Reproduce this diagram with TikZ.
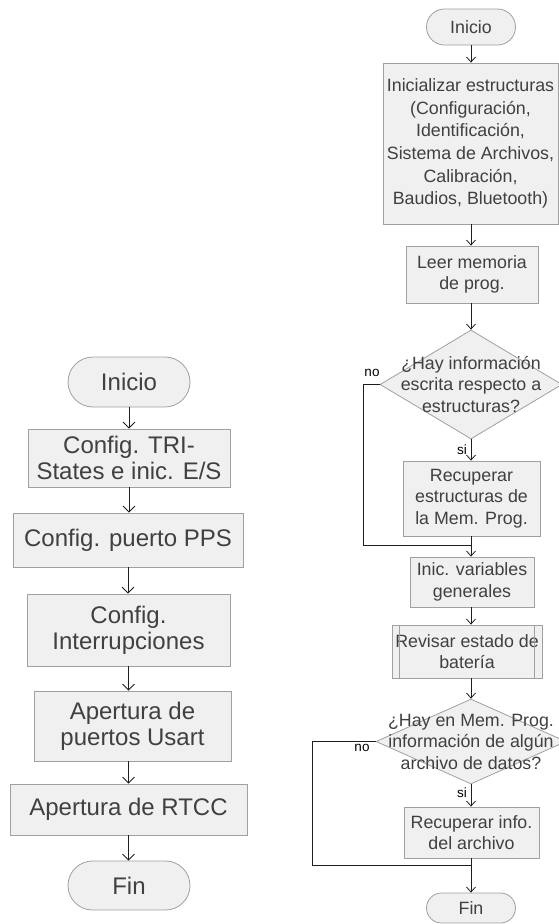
\documentclass[tikz,border=0pt]{standalone}
\usepackage{fontspec}
\setmainfont{Liberation Sans}
\usetikzlibrary{shapes.geometric,arrows.meta}
\definecolor{edgegray}{HTML}{A0A0A0}
\definecolor{boxfill}{HTML}{F0F0F0}
\definecolor{txtgray}{HTML}{404040}
\definecolor{linecol}{HTML}{1E1E1E}
\newcommand{\bigtxt}{\fontsize{24pt}{26pt}\selectfont}
\newcommand{\midtxt}{\fontsize{17.8pt}{21.5pt}\selectfont}
\newcommand{\smalltxt}{\fontsize{13.5pt}{15pt}\selectfont}
\tikzset{
  procbox/.style={draw=edgegray, fill=boxfill, text=txtgray, align=center,
    inner sep=0pt, line width=0.8pt},
  termbox/.style={procbox, rounded corners=#1},
  decbox/.style={draw=edgegray, fill=boxfill, diamond, inner sep=0pt,
    line width=0.8pt},
  dectext/.style={text=txtgray, align=center, inner sep=0pt},
  flow/.style={draw=linecol, line width=0.8pt},
  bigarrow/.style={flow, -{Straight Barb[length=6pt,width=12pt]}},
  smallarrow/.style={flow, -{Straight Barb[length=5pt,width=9pt]}},
  tag/.style={text=black, inner sep=0pt, font=\smalltxt},
}
\begin{document}
\begin{tikzpicture}[x=1pt,y=-1pt]
  \fill[white] (0,0) rectangle (558,924);
  \useasboundingbox (0,0) rectangle (558,924);

  % ---- start-up routine (left column) ----
  \begin{scope}[every node/.append style={font=\bigtxt}]
    \node[termbox=25pt, minimum width=122pt, minimum height=50pt] (iniA) at (129,382) {Inicio};
    \node[procbox, minimum width=202pt, minimum height=58pt] (tri) at (129,458) {Config. TRI-\\States e inic. E/S};
    \node[procbox, minimum width=230pt, minimum height=54pt] (pps) at (128,540) {Config. puerto PPS};
    \node[procbox, minimum width=203pt, minimum height=72pt] (intr) at (128.5,630) {Config.\\Interrupciones};
    \node[procbox, minimum width=197pt, minimum height=70pt] (usart) at (132.5,726) {Apertura de\\puertos Usart};
    \node[procbox, minimum width=237pt, minimum height=51pt] (rtcc) at (128.5,809.5) {Apertura de RTCC};
    \node[termbox=24.5pt, minimum width=122pt, minimum height=49pt] (finA) at (129,885.5) {Fin};
  \end{scope}
  \draw[bigarrow] (iniA.south) -- (iniA.south |- tri.north);
  \draw[bigarrow] (tri.south) -- (tri.south |- pps.north);
  \draw[bigarrow] (pps.south) -- (pps.south |- intr.north);
  \draw[bigarrow] (intr.south) -- (intr.south |- usart.north);
  \draw[bigarrow] (intr.south |- usart.south) -- (intr.south |- rtcc.north);
  \draw[bigarrow] (rtcc.south) -- (rtcc.south |- finA.north);

  % ---- data recovery routine (right column) ----
  \begin{scope}[every node/.append style={font=\midtxt}]
    \node[termbox=18pt, minimum width=89pt, minimum height=36pt] (iniB) at (471,27) {Inicio};
    \node[procbox, minimum width=175pt, minimum height=161pt,
          font=\fontsize{17.8pt}{22.6pt}\selectfont] (init) at (470.5,143.5)
      {Inicializar estructuras\\(Configuración,\\Identificación,\\Sistema de Archivos,\\Calibración,\\Baudios, Bluetooth)};
    \node[procbox, minimum width=132pt, minimum height=57pt] (leer) at (472,274.5) {Leer memoria\\de prog.};
    \node[decbox, minimum width=182pt, minimum height=109pt] (dA) at (471,384.5) {};
    \node[dectext] (dAt) at (dA.center) {¿Hay información\\escrita respecto a\\estructuras?};
    \node[procbox, minimum width=137pt, minimum height=75pt] (recA) at (471.5,498.5) {Recuperar\\estructuras de\\la Mem. Prog.};
    \node[procbox, minimum width=124pt, minimum height=50pt] (inic) at (472,582) {Inic. variables\\generales};
    \node[procbox, minimum width=150pt, minimum height=53pt] (rev) at (467,651.5) {Revisar estado de\\batería};
    \node[decbox, minimum width=190pt, minimum height=85pt] (dB) at (471,741.5) {};
    \node[dectext] (dBt) at (dB.center) {¿Hay en Mem. Prog.\\información de algún\\archivo de datos?};
    \node[procbox, minimum width=135pt, minimum height=51pt] (recB) at (471.5,832.5) {Recuperar info.\\del archivo};
    \node[termbox=15pt, minimum width=89pt, minimum height=30pt] (finB) at (471,908) {Fin};
  \end{scope}
  % subroutine side bars
  \draw[draw=edgegray, line width=0.8pt] ([xshift=8pt]rev.north west) -- ([xshift=8pt]rev.south west);
  \draw[draw=edgegray, line width=0.8pt] ([xshift=-8pt]rev.north east) -- ([xshift=-8pt]rev.south east);

  \coordinate (jA) at (471,545);
  \coordinate (jB) at (471,865);

  \draw[smallarrow] (iniB.south) -- (iniB.south |- init.north);
  \draw[smallarrow] (iniB.south |- init.south) -- (iniB.south |- leer.north);
  \draw[smallarrow] (iniB.south |- leer.south) -- (dA.north);
  \draw[smallarrow] (dA.south) -- (dA.south |- recA.north);
  \draw[smallarrow] (dA.south |- recA.south) -- (dA.south |- inic.north);
  \draw[flow] (dA.west) -- (363,384.5) |- (jA);
  \draw[smallarrow] (dA.south |- inic.south) -- (dA.south |- rev.north);
  \draw[smallarrow] (dA.south |- rev.south) -- (dB.north);
  \draw[smallarrow] (dB.south) -- (dB.south |- recB.north);
  \draw[smallarrow] (dB.south |- recB.south) -- (finB.north);
  \draw[flow] (dB.west) -- (312,741.5) |- (jB);

  \node[tag] (noA) at (372,373) {no};
  \node[tag] (siA) at (462,450) {si};
  \node[tag] (noB) at (362,748) {no};
  \node[tag] (siB) at (462,793) {si};
\end{tikzpicture}
\end{document}
